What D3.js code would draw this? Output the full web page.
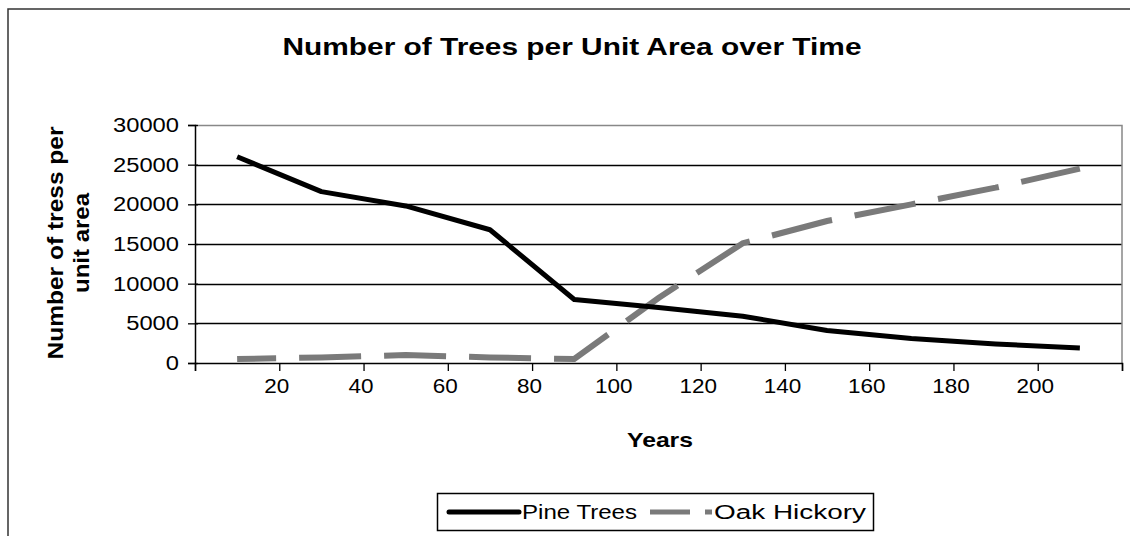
<!DOCTYPE html>
<html>
<head>
<meta charset="utf-8">
<script src="https://cdn.jsdelivr.net/npm/d3@7"></script>
<style>
  body { margin: 0; background: #fff; }
  svg { display: block; font-family: "Liberation Sans", Arial, sans-serif; }
</style>
</head>
<body>
<div id="chart"></div>
<script>
// data
const years = [10, 30, 50, 70, 90, 110, 130, 150, 170, 190, 210];
const pineTrees = [26000, 21600, 19800, 16800, 8000, 7000, 5900, 4100, 3100, 2400, 1900];
const oakHickory = [500, 700, 1000, 700, 500, 8200, 15100, 17900, 20000, 22100, 24500];
const xTicks = [20, 40, 60, 80, 100, 120, 140, 160, 180, 200];
const yTicks = [0, 5000, 10000, 15000, 20000, 25000, 30000];

const width = 1130, height = 536;
const margin = {top: 125, right: 8, bottom: 173, left: 195};

// source picture is stretched sideways, so text gets widened a bit
const digitW = 13.2;
function stretch(sel, w) {
  sel.attr('textLength', w).attr('lengthAdjust', 'spacingAndGlyphs');
}

const svg = d3.select('#chart')
  .append('svg')
  .attr('width', width)
  .attr('height', height);

// outer chart border
svg.append('rect')
  .attr('x', 8).attr('y', 9)
  .attr('width', width + 10).attr('height', height + 10)
  .attr('fill', 'none')
  .attr('stroke', '#333')
  .attr('stroke-width', 1.5);

const x = d3.scaleLinear().domain([0, 220]).range([margin.left, width - margin.right]);
const y = d3.scaleLinear().domain([0, 30000]).range([height - margin.bottom, margin.top]);

// gridlines
svg.append('g')
  .selectAll('line')
  .data(yTicks.filter(d => d > 0 && d < 30000))
  .enter()
  .append('line')
  .attr('x1', x(0)).attr('x2', x(220))
  .attr('y1', d => Math.round(y(d)) + 0.5).attr('y2', d => Math.round(y(d)) + 0.5)
  .attr('stroke', '#000')
  .attr('stroke-width', 1.3);

// plot area border (top + right)
svg.append('path')
  .attr('d', `M${x(0)},${Math.round(y(30000)) + 0.5}H${x(220)}V${y(0)}`)
  .attr('fill', 'none')
  .attr('stroke', '#888')
  .attr('stroke-width', 1.5);

// y axis
const yAxis = svg.append('g')
  .attr('transform', `translate(${x(0)},0)`)
  .call(d3.axisLeft(y).tickValues(yTicks).tickSize(7).tickPadding(9).tickFormat(d3.format('d')));
yAxis.select('.domain').attr('stroke', '#000').attr('stroke-width', 1.5);
yAxis.selectAll('.tick line').attr('x1', 3).attr('stroke-width', 1.3);
yAxis.selectAll('text')
  .attr('font-size', 20)
  .attr('font-family', '"Liberation Sans", Arial, sans-serif')
  .attr('fill', '#000')
  .each(function(d) { stretch(d3.select(this), String(d).length * digitW); });

// x axis
const xAxis = svg.append('g')
  .attr('transform', `translate(0,${y(0)})`)
  .call(d3.axisBottom(x).tickValues([0].concat(xTicks, [220])).tickSize(8).tickPadding(8)
    .tickFormat(d => (d === 0 || d === 220) ? '' : d));
xAxis.select('.domain').attr('stroke', '#000').attr('stroke-width', 1.5);
xAxis.selectAll('.tick line').attr('stroke-width', 1.3);
xAxis.selectAll('text')
  .attr('font-size', 20)
  .attr('font-family', '"Liberation Sans", Arial, sans-serif')
  .attr('dx', -3)
  .attr('fill', '#000')
  .each(function(d) {
    if (d !== 0 && d !== 220) stretch(d3.select(this), String(d).length * 12.5);
  });

const line = d3.line()
  .x((d, i) => x(years[i]))
  .y(d => y(d));

svg.append('path')
  .datum(oakHickory)
  .attr('d', line)
  .attr('fill', 'none')
  .attr('stroke', '#7a7a7a')
  .attr('stroke-width', 6)
  .attr('stroke-dasharray', '62 23')
  .attr('stroke-dashoffset', 23);

svg.append('path')
  .datum(pineTrees)
  .attr('d', line)
  .attr('fill', 'none')
  .attr('stroke', '#000')
  .attr('stroke-width', 5)
  .attr('stroke-linejoin', 'round');

// titles
svg.append('text')
  .attr('x', 572).attr('y', 55)
  .attr('text-anchor', 'middle')
  .attr('font-size', 23)
  .attr('font-weight', 'bold')
  .call(stretch, 579)
  .text('Number of Trees per Unit Area over Time');

svg.append('text')
  .attr('x', 660).attr('y', 447)
  .attr('text-anchor', 'middle')
  .attr('font-size', 21)
  .attr('font-weight', 'bold')
  .call(stretch, 66)
  .text('Years');

const yLabel = svg.append('text')
  .attr('transform', 'translate(0,243) rotate(-90)')
  .attr('text-anchor', 'middle')
  .attr('font-size', 22)
  .attr('font-weight', 'bold');
yLabel.append('tspan').attr('x', 0).attr('y', 63).call(stretch, 233).text('Number of tress per');
yLabel.append('tspan').attr('x', 0).attr('y', 89).call(stretch, 100).text('unit area');

// legend
const legend = svg.append('g');
legend.append('rect')
  .attr('x', 437.5).attr('y', 493.5)
  .attr('width', 436).attr('height', 37)
  .attr('fill', '#fff')
  .attr('stroke', '#000')
  .attr('stroke-width', 1.5);
legend.append('line')
  .attr('x1', 449).attr('x2', 519).attr('y1', 512).attr('y2', 512)
  .attr('stroke', '#000').attr('stroke-width', 5).attr('stroke-linecap', 'round');
legend.append('text')
  .attr('x', 522).attr('y', 519)
  .attr('font-size', 20)
  .call(stretch, 115)
  .text('Pine Trees');
legend.append('line')
  .attr('x1', 650).attr('x2', 712).attr('y1', 512).attr('y2', 512)
  .attr('stroke', '#7a7a7a').attr('stroke-width', 5)
  .attr('stroke-dasharray', '40 15');
legend.append('text')
  .attr('x', 714).attr('y', 519)
  .attr('font-size', 20)
  .call(stretch, 152)
  .text('Oak Hickory');
</script>
</body>
</html>
